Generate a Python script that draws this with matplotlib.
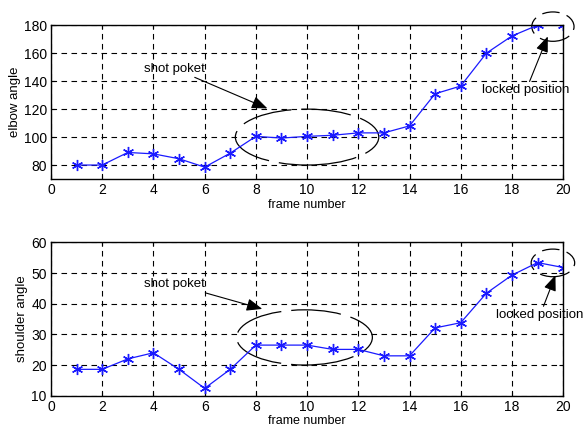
import matplotlib
matplotlib.use("Agg")
import matplotlib.pyplot as plt
from matplotlib.patches import Ellipse

plt.rcParams["font.family"] = ["Liberation Sans", "DejaVu Sans"]

# data
frames = list(range(1, 21))
elbow = [80, 80, 89, 88, 84.5, 78.5, 88.5, 100.5, 99.3, 100.5,
         101.3, 103, 103, 108, 131, 136.5, 160, 172.3, 180, 180]
shoulder = [18.6, 18.6, 22, 24, 18.6, 12.4, 18.6, 26.5, 26.5, 26.5,
            25.1, 25.1, 23, 23, 32.1, 33.8, 43.4, 49.3, 53.4, 51.8]

x_ticks = list(range(0, 21, 2))
elbow_ticks = [80, 100, 120, 140, 160, 180]
shoulder_ticks = [10, 20, 30, 40, 50, 60]

LINE_BLUE = "#1a1aff"
ASTERISK = (6, 2, 0)  # matlab-style '*' marker


def style_axes(ax, ylim, yticks, ylabel):
    ax.set_xlim(0, 20)
    ax.set_ylim(*ylim)
    ax.set_xticks(x_ticks)
    ax.set_yticks(yticks)
    ax.grid(True, color="black", linestyle=(0, (5, 4)), linewidth=0.8)
    ax.tick_params(direction="in", length=3, top=True, right=True,
                   labelsize=10, pad=3)
    ax.set_xlabel("frame number", fontsize=9, labelpad=1)
    ax.set_ylabel(ylabel, fontsize=9.5, labelpad=2)
    for s in ax.spines.values():
        s.set_linewidth(1.0)


def draw_note(ax, text, xytext, xy, ha="center"):
    ax.annotate(
        text, xy=xy, xytext=xytext, fontsize=9.5, ha=ha, va="center",
        arrowprops=dict(arrowstyle="-|>,head_length=1.0,head_width=0.4",
                        color="black", lw=0.8, shrinkA=0, shrinkB=0),
        annotation_clip=False,
    )


def draw_ring(ax, center, w, h, dashes=(40, 8)):
    e = Ellipse(center, w, h, fill=False, edgecolor="black", linewidth=0.9,
                linestyle=(0, dashes), clip_on=False)
    ax.add_patch(e)


fig = plt.figure(figsize=(5.84, 4.32), dpi=100)
ax1 = fig.add_axes([0.0873, 0.5856, 0.877, 0.356])
ax2 = fig.add_axes([0.0873, 0.084, 0.877, 0.355])

ax1.plot(frames, elbow, color=LINE_BLUE, linewidth=0.9, marker=ASTERISK,
         markersize=8, markeredgewidth=1.0)
style_axes(ax1, (70, 180), elbow_ticks, "elbow angle")
draw_ring(ax1, (10, 100), 5.6, 40)
draw_ring(ax1, (19.6, 179), 1.65, 21, dashes=(14, 6))
draw_note(ax1, "shot poket", (6.0, 149), (8.45, 120.5), ha="right")
draw_note(ax1, "locked position", (18.55, 133.5), (19.4, 172))

ax2.plot(frames, shoulder, color=LINE_BLUE, linewidth=0.9, marker=ASTERISK,
         markersize=8, markeredgewidth=1.0)
style_axes(ax2, (10, 60), shoulder_ticks, "shoulder angle")
draw_ring(ax2, (9.9, 29), 5.3, 18)
draw_ring(ax2, (19.6, 53.3), 1.7, 9, dashes=(14, 6))
draw_note(ax2, "shot poket", (6.0, 46.4), (8.25, 38.3), ha="right")
draw_note(ax2, "locked position", (19.1, 36.3), (19.7, 49.3))

fig.savefig("out.png", dpi=100)
